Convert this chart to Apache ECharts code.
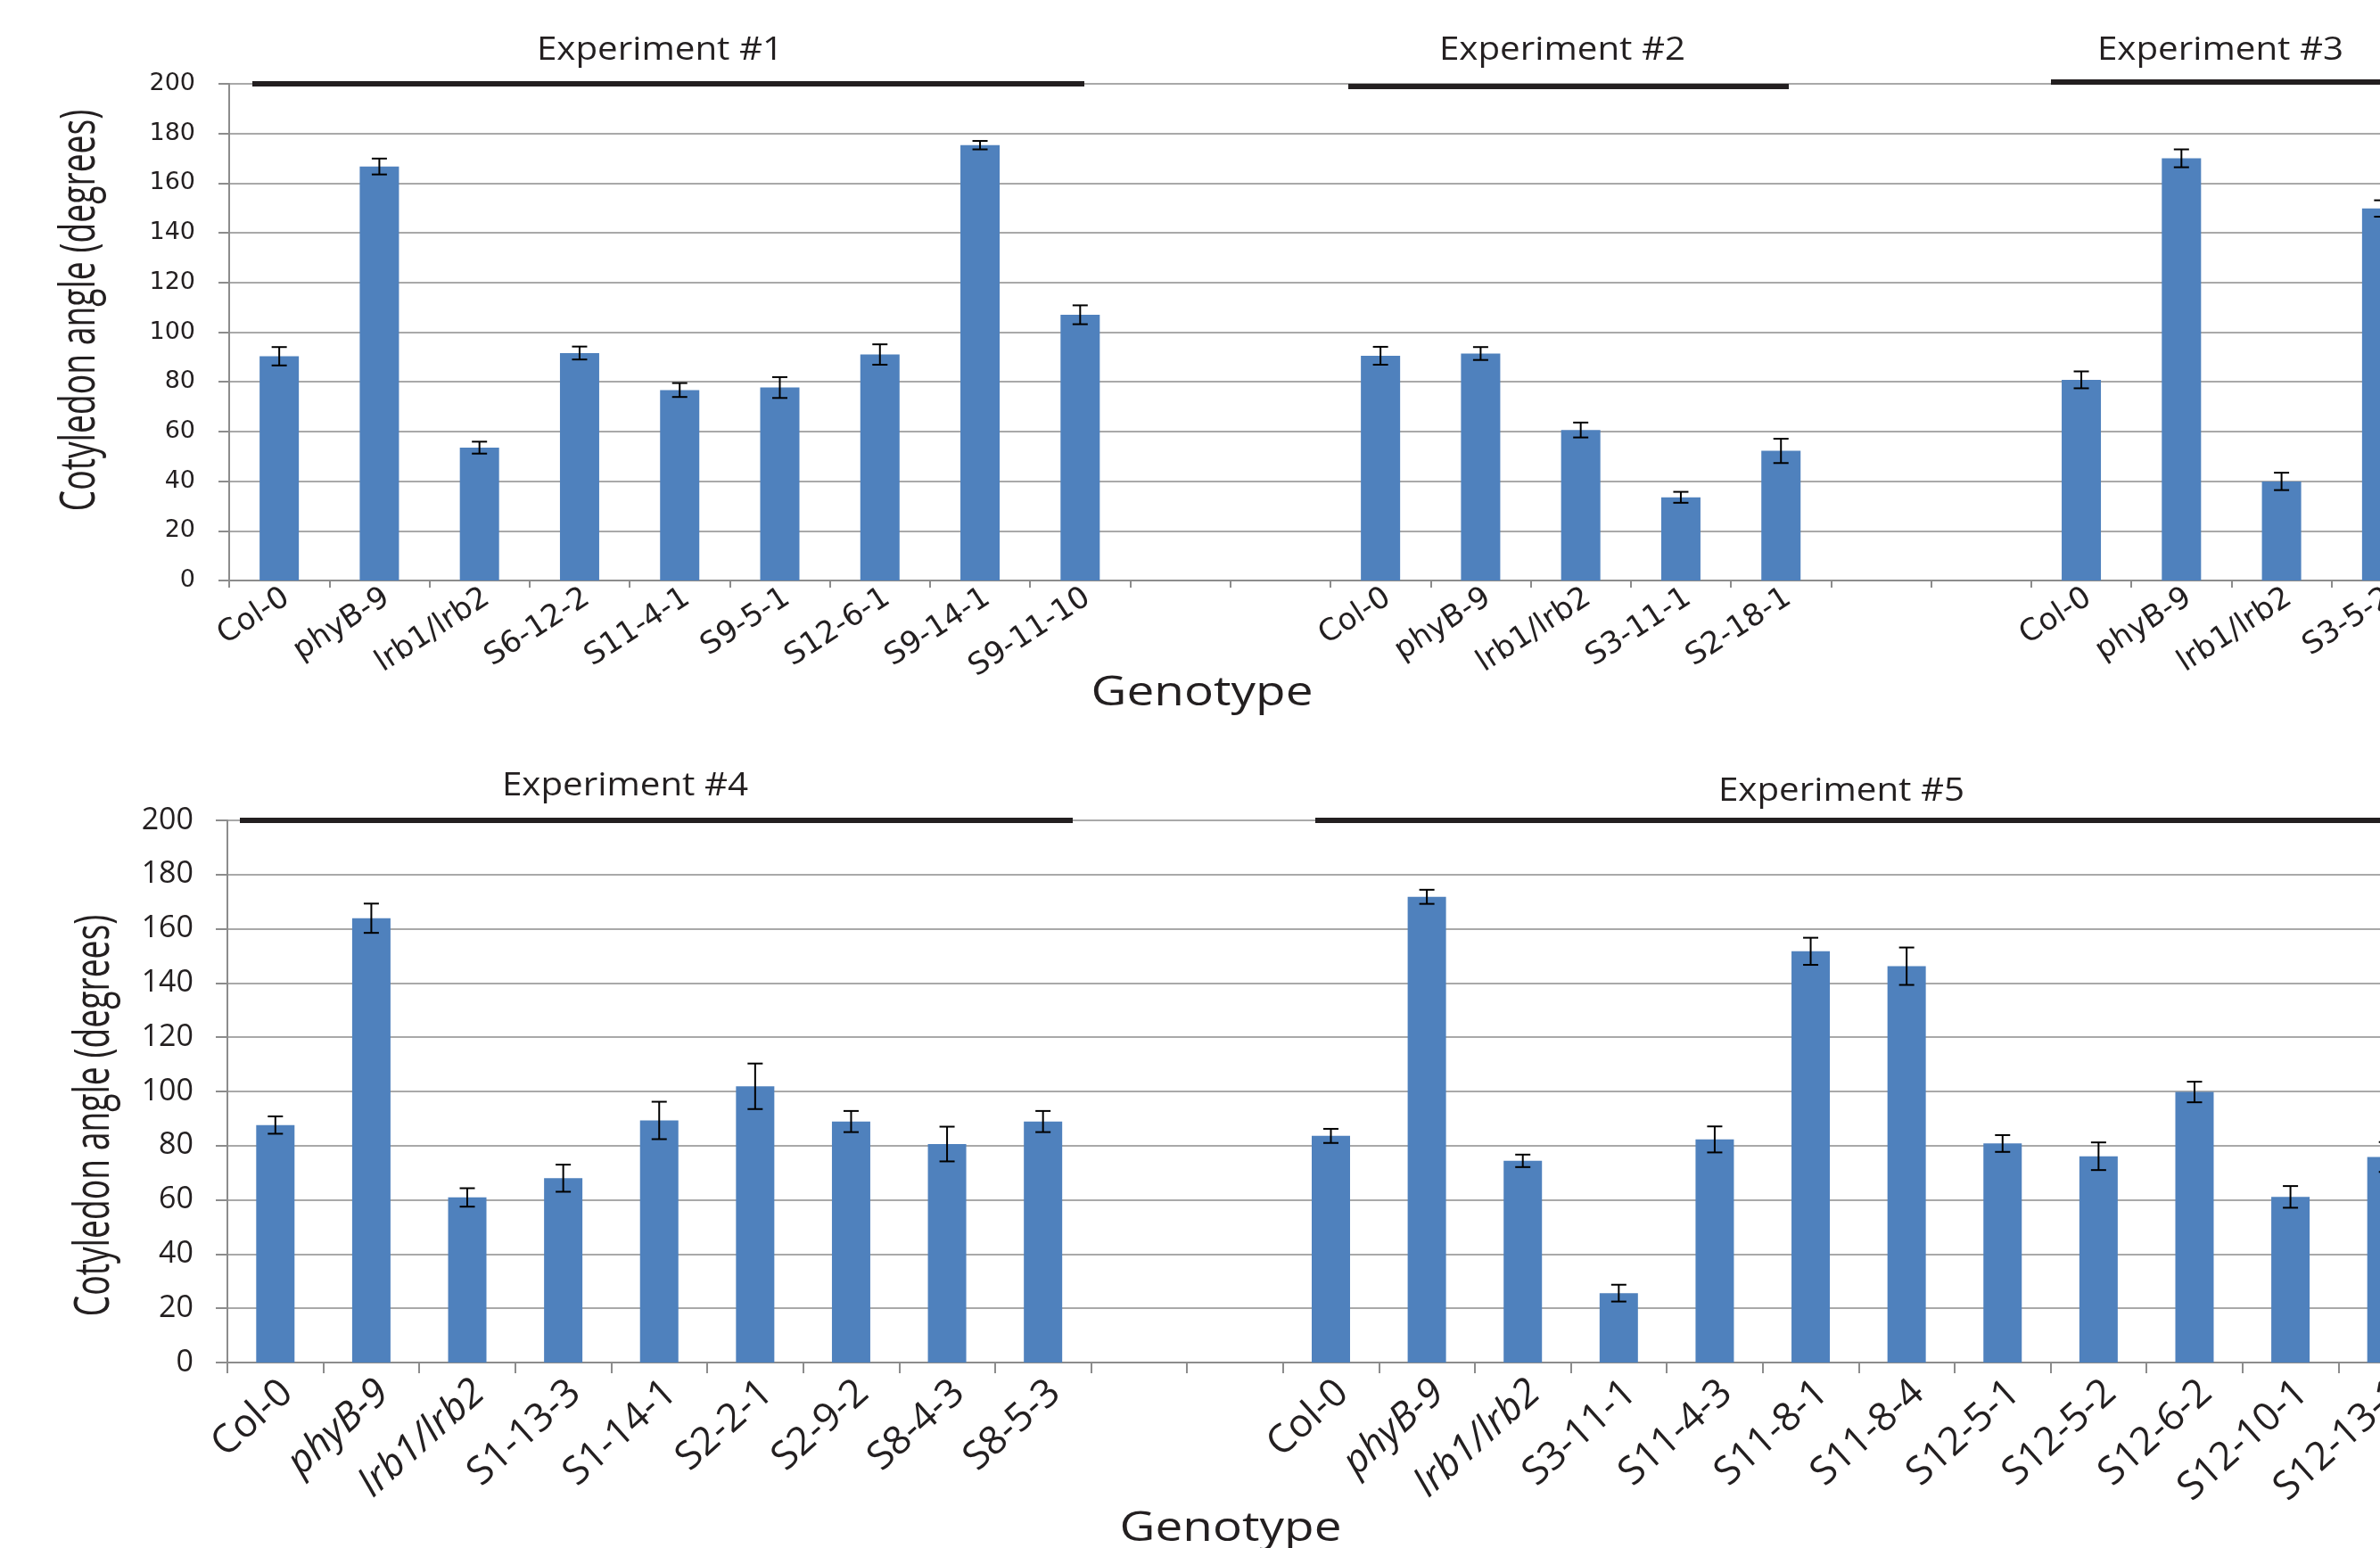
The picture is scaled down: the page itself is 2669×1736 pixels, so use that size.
<!DOCTYPE html>
<html>
<head>
<meta charset="utf-8">
<title>Cotyledon angle by genotype</title>
<script src="https://cdn.jsdelivr.net/npm/echarts@6/dist/echarts.min.js"></script>
<style>
  html, body { margin: 0; padding: 0; background: #fff; }
  #chart { width: 2669px; height: 1736px; }
</style>
</head>
<body>
<div id="chart"></div>
<script>
// ---- data (mean angle, standard error) ----
var exp1Genotypes = ['Col-0', 'phyB-9', 'lrb1/lrb2', 'S6-12-2', 'S11-4-1', 'S9-5-1', 'S12-6-1', 'S9-14-1', 'S9-11-10'];
var exp1Means = [90.3, 166.7, 53.5, 91.6, 76.7, 77.7, 91.0, 175.3, 107.0];
var exp1Errors = [3.7, 3.2, 2.4, 2.6, 2.8, 4.2, 4.1, 1.7, 3.8];

var exp2Genotypes = ['Col-0', 'phyB-9', 'lrb1/lrb2', 'S3-11-1', 'S2-18-1'];
var exp2Means = [90.5, 91.4, 60.6, 33.5, 52.2];
var exp2Errors = [3.6, 2.6, 3.0, 2.2, 4.9];

var exp3Genotypes = ['Col-0', 'phyB-9', 'lrb1/lrb2', 'S3-5-2'];
var exp3Means = [80.8, 170.0, 39.9, 149.8];
var exp3Errors = [3.4, 3.6, 3.5, 3.3];

var exp4Genotypes = ['Col-0', 'phyB-9', 'lrb1/lrb2', 'S1-13-3', 'S1-14-1', 'S2-2-1', 'S2-9-2', 'S8-4-3', 'S8-5-3'];
var exp4Means = [87.6, 163.9, 60.9, 68.0, 89.3, 101.9, 88.9, 80.6, 88.9];
var exp4Errors = [3.2, 5.4, 3.4, 5.0, 6.9, 8.4, 3.9, 6.4, 3.9];

var exp5Genotypes = ['Col-0', 'phyB-9', 'lrb1/lrb2', 'S3-11-1', 'S11-4-3', 'S11-8-1', 'S11-8-4', 'S12-5-1', 'S12-5-2', 'S12-6-2', 'S12-10-1', 'S12-13-1'];
var exp5Means = [83.6, 171.8, 74.4, 25.6, 82.3, 151.7, 146.2, 80.8, 76.1, 99.8, 61.1, 75.8];
var exp5Errors = [2.6, 2.6, 2.3, 3.1, 4.8, 5.0, 6.9, 3.1, 5.1, 3.8, 4.0, 5.5];

var yTicks = [0, 20, 40, 60, 80, 100, 120, 140, 160, 180, 200];
var mutantNames = ['phyB-9', 'lrb1/lrb2'];

// two empty slots separate the experiments on one axis
function joinExperiments(groups) {
    var names = [], means = [], errs = [];
    groups.forEach(function (g, gi) {
        if (gi > 0) {
            names.push('', '');
            means.push('-', '-');
            errs.push(null, null);
        }
        for (var i = 0; i < g[0].length; i++) {
            names.push(g[0][i]);
            means.push(g[1][i]);
            errs.push(g[2][i]);
        }
    });
    var errData = [];
    for (var k = 0; k < names.length; k++) {
        if (errs[k] != null) errData.push([k, means[k], errs[k]]);
    }
    return { names: names, means: means, errData: errData };
}

var upperPanel = joinExperiments([
    [exp1Genotypes, exp1Means, exp1Errors],
    [exp2Genotypes, exp2Means, exp2Errors],
    [exp3Genotypes, exp3Means, exp3Errors]
]);
var lowerPanel = joinExperiments([
    [exp4Genotypes, exp4Means, exp4Errors],
    [exp5Genotypes, exp5Means, exp5Errors]
]);

var gridGray = '#8c8c8c';
var ink = '#231f20';

function errorBar(params, api) {
    var x = api.value(0), m = api.value(1), e = api.value(2);
    var hi = api.coord([x, m + e]);
    var lo = api.coord([x, m - e]);
    var half = 8.5;
    var st = { stroke: '#000', lineWidth: 2 };
    return {
        type: 'group',
        children: [
            { type: 'line', shape: { x1: hi[0], y1: hi[1], x2: lo[0], y2: lo[1] }, style: st },
            { type: 'line', shape: { x1: hi[0] - half, y1: hi[1], x2: hi[0] + half, y2: hi[1] }, style: st },
            { type: 'line', shape: { x1: lo[0] - half, y1: lo[1], x2: lo[0] + half, y2: lo[1] }, style: st }
        ]
    };
}

function valueAxis(gridIndex, labelFont, labelSize, tickLen) {
    return {
        type: 'value',
        gridIndex: gridIndex,
        min: yTicks[0],
        max: yTicks[yTicks.length - 1],
        interval: yTicks[1] - yTicks[0],
        axisLine: { show: true, lineStyle: { color: gridGray, width: 2 } },
        axisTick: { show: true, length: tickLen, lineStyle: { color: gridGray, width: 2 } },
        splitLine: { show: true, lineStyle: { color: gridGray, width: 1.5 } },
        axisLabel: { margin: 38, color: ink, fontFamily: labelFont, fontSize: labelSize }
    };
}

function catAxis(gridIndex, names, tickLen, rot, margin, shift, font, size, italicMutants) {
    return {
        type: 'category',
        gridIndex: gridIndex,
        data: names,
        axisLine: { show: true, lineStyle: { color: gridGray, width: 2 } },
        axisTick: { show: true, length: tickLen, interval: 0, lineStyle: { color: gridGray, width: 2 } },
        axisLabel: {
            interval: 0,
            rotate: rot,
            margin: margin,
            padding: [0, -shift, 0, 0],
            color: ink,
            fontFamily: font,
            fontSize: size,
            formatter: function (v) {
                if (italicMutants && mutantNames.indexOf(v) >= 0) return '{it|' + v + '}';
                return v;
            },
            rich: { it: { fontStyle: 'italic', fontFamily: font, fontSize: size, color: ink } }
        }
    };
}

function titleText(txt, x, y, size, sx) {
    return {
        type: 'text', x: x, y: y, scaleX: sx, z: 100,
        style: {
            text: txt, fill: ink, font: 'normal ' + size + 'px "Open Sans"',
            align: 'center', verticalAlign: 'middle', textAlign: 'center', textVerticalAlign: 'middle'
        }
    };
}

function bracket(x1, x2, y) {
    return { type: 'line', z: 100, shape: { x1: x1, y1: y, x2: x2, y2: y }, style: { stroke: ink, lineWidth: 6 } };
}

function yTitle(x, y) {
    return {
        type: 'text', x: x, y: y, rotation: Math.PI / 2, scaleX: 0.69, z: 100,
        style: {
            text: 'Cotyledon angle (degrees)', fill: ink, font: 'normal 54px "Open Sans"',
            align: 'center', verticalAlign: 'middle', textAlign: 'center', textVerticalAlign: 'middle'
        }
    };
}

var chart = echarts.init(document.getElementById('chart'));
chart.setOption({
    backgroundColor: '#fff',
    animation: false,
    grid: [
        { left: 257, top: 94, width: 2470, height: 557, containLabel: false, outerBoundsMode: 'none' },
        { left: 255, top: 920, width: 2475, height: 608, containLabel: false, outerBoundsMode: 'none' }
    ],
    xAxis: [
        catAxis(0, upperPanel.names, 8, 33, 22, 10, 'DejaVu Sans', 34, false),
        catAxis(1, lowerPanel.names, 12, 42, 40, 18, 'Open Sans', 44, true)
    ],
    yAxis: [
        valueAxis(0, 'DejaVu Sans', 27, 12),
        valueAxis(1, 'Open Sans', 34, 13)
    ],
    series: [
        { type: 'bar', xAxisIndex: 0, yAxisIndex: 0, data: upperPanel.means, barWidth: 44,
          itemStyle: { color: '#4f81bd' }, silent: true },
        { type: 'custom', xAxisIndex: 0, yAxisIndex: 0, data: upperPanel.errData, renderItem: errorBar,
          encode: { x: 0, y: 1 }, z: 5, silent: true },
        { type: 'bar', xAxisIndex: 1, yAxisIndex: 1, data: lowerPanel.means, barWidth: 43,
          itemStyle: { color: '#4f81bd' }, silent: true },
        { type: 'custom', xAxisIndex: 1, yAxisIndex: 1, data: lowerPanel.errData, renderItem: errorBar,
          encode: { x: 0, y: 1 }, z: 5, silent: true }
    ],
    graphic: {
        elements: [
            bracket(283, 1216, 94),
            bracket(1512, 2006, 97),
            bracket(2300, 2680, 92),
            bracket(269, 1203, 920),
            bracket(1475, 2680, 920),
            titleText('Experiment #1', 740, 57, 36, 1.12),
            titleText('Experiment #2', 1752, 57, 36, 1.12),
            titleText('Experiment #3', 2490, 57, 36, 1.12),
            titleText('Experiment #4', 701, 882, 36, 1.12),
            titleText('Experiment #5', 2065, 888, 36, 1.12),
            titleText('Genotype', 1348, 778, 45, 1.22),
            titleText('Genotype', 1380, 1715, 45, 1.22),
            yTitle(91, 348),
            yTitle(107, 1251)
        ]
    }
});
</script>
</body>
</html>
